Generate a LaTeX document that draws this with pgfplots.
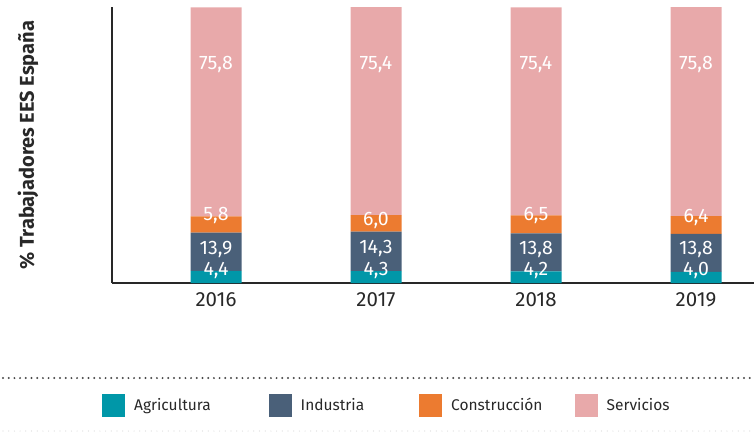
\documentclass[border=0pt]{standalone}
\usepackage{fontspec}
\setmainfont{Fira Sans}
\usepackage{pgfplots}
\pgfplotsset{compat=1.18}
\definecolor{agri}{RGB}{0,151,168}
\definecolor{indu}{RGB}{74,96,121}
\definecolor{cons}{RGB}{236,123,48}
\definecolor{serv}{RGB}{232,169,170}
\definecolor{axc}{RGB}{40,40,40}
\begin{document}
\begin{tikzpicture}
\useasboundingbox (0pt,0pt) rectangle (754pt,-432pt);
\begin{axis}[
  at={(112pt,-283pt)}, anchor=south west,
  scale only axis, width=642pt, height=276pt,
  ybar stacked, bar width=51pt,
  xmin=-0.65, xmax=3.3625, ymin=0, ymax=100,
  axis x line=bottom, axis y line=left,
  axis line style={axc, line width=1.2pt, -},
  xtick={0,1,2,3}, xticklabels={2016,2017,2018,2019},
  major tick length=0pt, ytick=\empty,
  xticklabel style={font=\fontsize{20.5}{24}\selectfont, text=axc, yshift=-6pt},
  ylabel={\% Trabajadores EES España},
  every axis y label/.style={at={(axis description cs:-0.1308,0.5)}, rotate=90, anchor=center,
    font=\bfseries\fontsize{20}{24}\selectfont, text=axc},
  legend columns=4,
  legend style={at={(axis description cs:-0.0156,-0.4438)}, anchor=west, draw=none, fill=none,
    font=\fontsize{15.5}{18}\selectfont, text=axc, inner sep=0pt, column sep=0pt,
    /tikz/every even column/.append style={column sep=0pt}},
  legend image code/.code={\fill[#1] (0pt,-11.5pt) rectangle (23pt,11.5pt);},
]
\addplot[fill=agri, draw=none] coordinates {(0,4.4) (1,4.3) (2,4.2) (3,4.0)};
\addplot[fill=indu, draw=none] coordinates {(0,13.9) (1,14.3) (2,13.8) (3,13.8)};
\addplot[fill=cons, draw=none] coordinates {(0,5.8) (1,6.0) (2,6.5) (3,6.4)};
\addplot[fill=serv, draw=none] coordinates {(0,75.8) (1,75.4) (2,75.4) (3,75.8)};
\addlegendentry{\hspace{7pt}\makebox[132.5pt][l]{Agricultura}}
\addlegendentry{\hspace{7pt}\makebox[116.5pt][l]{Industria}}
\addlegendentry{\hspace{7pt}\makebox[121.5pt][l]{Construcción}}
\addlegendentry{\hspace{7pt}Servicios}
\coordinate (s0) at (axis cs:0,79);
\coordinate (s1) at (axis cs:1,79);
\coordinate (s2) at (axis cs:2,79);
\coordinate (s3) at (axis cs:3,79);
\coordinate (c0) at (axis cs:0,24.5);
\coordinate (c1) at (axis cs:1,22.5);
\coordinate (c2) at (axis cs:2,24.3);
\coordinate (c3) at (axis cs:3,23.8);
\coordinate (i0) at (axis cs:0,12.3);
\coordinate (i1) at (axis cs:1,12.4);
\coordinate (i2) at (axis cs:2,12.3);
\coordinate (i3) at (axis cs:3,12.3);
\coordinate (a0) at (axis cs:0,4.7);
\coordinate (a1) at (axis cs:1,4.7);
\coordinate (a2) at (axis cs:2,4.7);
\coordinate (a3) at (axis cs:3,4.7);
\end{axis}
\begin{scope}[every node/.style={text=white, font=\fontsize{19.5}{23}\selectfont, anchor=center, inner sep=0pt}]
\node at (s0) {75,8};
\node at (s1) {75,4};
\node at (s2) {75,4};
\node at (s3) {75,8};
\node at (c0) {5,8};
\node at (c1) {6,0};
\node at (c2) {6,5};
\node at (c3) {6,4};
\node at (i0) {13,9};
\node at (i1) {14,3};
\node at (i2) {13,8};
\node at (i3) {13,8};
\node at (a0) {4,4};
\node at (a1) {4,3};
\node at (a2) {4,2};
\node at (a3) {4,0};
\end{scope}
\draw[color=axc!85, line width=2.2pt, line cap=round, dash pattern=on 0pt off 5.7pt] (3pt,-378pt) -- (754pt,-378pt);
\draw[color=black!15, line width=1.2pt, line cap=round, dash pattern=on 0pt off 5.7pt] (3pt,-431pt) -- (754pt,-431pt);
\end{tikzpicture}
\end{document}
